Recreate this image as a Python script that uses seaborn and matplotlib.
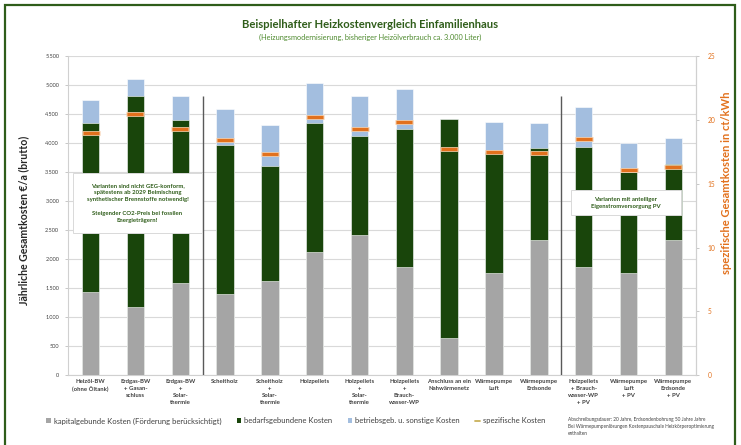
import numpy as np
import pandas as pd
import matplotlib
matplotlib.use("Agg")
import matplotlib.pyplot as plt
import seaborn as sns
from matplotlib.patches import Rectangle, Patch
from matplotlib.lines import Line2D
from matplotlib.ticker import FuncFormatter, FixedLocator

# ---------------- data ----------------
categories = [
    "Heizöl-BW\n(ohne Öltank)",
    "Erdgas-BW\n+ Gasan-\nschluss",
    "Erdgas-BW\n+\nSolar-\nthermie",
    "Scheitholz",
    "Scheitholz\n+\nSolar-\nthermie",
    "Holzpellets",
    "Holzpellets\n+\nSolar-\nthermie",
    "Holzpellets\n+\nBrauch-\nwasser-WP",
    "Anschluss an ein\nNahwärmenetz",
    "Wärmepumpe\nLuft",
    "Wärmepumpe\nErdsonde",
    "Holzpellets\n+ Brauch-\nwasser-WP\n+ PV",
    "Wärmepumpe\nLuft\n+ PV",
    "Wärmepumpe\nErdsonde\n+ PV",
]
kapital = [1440, 1170, 1590, 1390, 1630, 2120, 2410, 1870, 640, 1760, 2330, 1870, 1760, 2330]
bedarf = [2910, 3640, 2800, 2580, 1970, 2230, 1710, 2380, 3780, 2080, 1580, 2070, 1740, 1310]
betrieb = [390, 290, 430, 620, 720, 680, 690, 680, 0, 520, 440, 680, 510, 440]
spezifisch = [19.0, 20.45, 19.3, 18.4, 17.3, 20.2, 19.3, 19.8, 17.7, 17.5, 17.4, 18.5, 16.1, 16.3]
group_boundaries = [2.5, 10.5]
separator_top = 4820

series_names = ["kapitalgebunde Kosten (Förderung berücksichtigt)",
                "bedarfsgebundene Kosten",
                "betriebsgeb. u. sonstige Kosten",
                "spezifische Kosten"]

title = "Beispielhafter Heizkostenvergleich Einfamilienhaus"
subtitle = "(Heizungsmodernisierung, bisheriger Heizölverbrauch ca. 3.000 Liter)"
ylabel_left = "Jährliche Gesamtkosten €/a (brutto)"
ylabel_right = "spezifische Gesamtkosten in ct/kWh"
box1_text = ("Varianten sind nicht GEG-konform,\nspätestens ab 2029 Beimischung\n"
             "synthetischer Brennstoffe notwendig!\n\nSteigender CO2-Preis bei fossilen\nEnergieträgern!")
box2_text = "Varianten mit anteiliger\nEigenstromversorgung PV"
footnote = ("Abschreibungsdauer: 20 Jahre, Erdsondenbohrung 50 Jahre Jahre\n"
            "Bei Wärmepumpenlösungen Kostenpauschale Heizkörperoptimierung\nenthalten")

# ---------------- style ----------------
C_GRAY = "#A5A5A5"
C_GREEN = "#19450B"
C_BLUE = "#A3BEDF"
C_ORANGE = "#E2711D"
C_ORANGE_LIGHT = "#F6C9A0"
C_TITLE = "#2F5D1A"
C_SUB = "#4E8A2E"
C_TXT = "#404040"

sns.set_theme(style="white")
plt.rcParams["font.family"] = ["Lato", "DejaVu Sans"]

df = pd.DataFrame({"cat": categories, "kap": kapital, "bed": bedarf, "bet": betrieb, "spez": spezifisch})
df["lvl2"] = df["kap"] + df["bed"]
df["lvl3"] = df["lvl2"] + df["bet"]

fig = plt.figure(figsize=(7.41, 4.45), dpi=100)
ax = fig.add_axes([0.092, 0.157, 0.847, 0.717])

bw = 0.39
for col, c in [("lvl3", C_BLUE), ("lvl2", C_GREEN), ("kap", C_GRAY)]:
    sns.barplot(data=df, x="cat", y=col, order=categories, color=c, saturation=1,
                width=bw, ax=ax, zorder=3, edgecolor="#FFFFFF", linewidth=0.4)

ax.set_ylim(0, 5500)
ax.set_xlim(-0.5, len(categories) - 0.5)
ax.yaxis.set_major_locator(FixedLocator(np.arange(0, 5501, 500)))
ax.yaxis.set_major_formatter(FuncFormatter(lambda v, p: f"{int(v):,}".replace(",", ".")))
ax.grid(axis="y", color="#D9D9D9", linewidth=0.8, zorder=0)
ax.set_axisbelow(True)

# separators
ax.vlines(group_boundaries, 0, separator_top, color="#595959", linewidth=1.0, zorder=4)

# secondary axis with specific costs
ax2 = ax.twinx()
sns.pointplot(data=df, x="cat", y="spez", order=categories, ax=ax2, errorbar=None,
              linestyle="none", marker="_", markersize=12.5, markeredgewidth=3.4,
              color=C_ORANGE_LIGHT, zorder=5)
sns.pointplot(data=df, x="cat", y="spez", order=categories, ax=ax2, errorbar=None,
              linestyle="none", marker="_", markersize=12, markeredgewidth=2.2,
              color=C_ORANGE, zorder=6)
ax2.set_ylim(0, 25)
ax2.set_xlim(-0.5, len(categories) - 0.5)
ax2.yaxis.set_major_locator(FixedLocator(np.arange(0, 26, 5)))
ax2.set_ylabel("")
ax2.set_xlabel("")
ax2.grid(False)
ax2.tick_params(axis="y", labelcolor=C_ORANGE, labelsize=4.8, length=2.5, width=0.6, pad=6,
                color="#BFBFBF")

# x ticks / labels
ax.set_xticks(range(len(categories)))
ax.set_xticklabels(categories, fontsize=4.3, color=C_TXT, linespacing=1.45, fontweight="bold")
ax.tick_params(axis="x", length=0, pad=3)
ax.xaxis.set_minor_locator(FixedLocator(np.arange(-0.5, len(categories), 1)))
ax.tick_params(axis="x", which="minor", length=2.5, width=0.6, color="#BFBFBF")
ax.tick_params(axis="y", labelsize=4.0, labelcolor=C_TXT, length=2.5, width=0.6, pad=4,
               color="#BFBFBF")
ax.set_xlabel("")
ax.set_ylabel("")

for a in (ax, ax2):
    a.spines["top"].set_visible(False)
    for s in ["left", "right", "bottom"]:
        a.spines[s].set_color("#D0D0D0")
        a.spines[s].set_linewidth(0.8)
ax2.spines["left"].set_visible(False)
ax2.spines["bottom"].set_visible(False)

# annotation boxes
def textbox(x0, y0, x1, y1, text, fs):
    ax2.add_patch(Rectangle((x0, y0), x1 - x0, y1 - y0, transform=ax2.transAxes, facecolor="white",
                            edgecolor="#D9D9D9", linewidth=0.7, zorder=10, clip_on=False))
    ax2.text((x0 + x1) / 2, (y0 + y1) / 2, text, transform=ax2.transAxes, ha="center", va="center",
             fontsize=fs, color=C_TITLE, fontweight="bold", linespacing=1.5, zorder=11)

textbox(0.008, 0.445, 0.213, 0.633, box1_text, 4.3)
textbox(0.801, 0.502, 0.976, 0.580, box2_text, 4.3)

# titles and axis labels
fig.text(0.5, 0.944, title, ha="center", va="center", fontsize=8.1, fontweight="bold", color=C_TITLE)
fig.text(0.5, 0.915, subtitle, ha="center", va="center", fontsize=5.3, color=C_SUB)
fig.text(0.032, 0.505, ylabel_left, rotation=90, ha="center", va="center", fontsize=7.6,
         fontweight="bold", color="#262626")
fig.text(0.981, 0.589, ylabel_right, rotation=90, ha="center", va="center", fontsize=8.0,
         fontweight="bold", color=C_ORANGE)

# legend
handles = [Patch(facecolor=C_GRAY, edgecolor="none"),
           Patch(facecolor=C_GREEN, edgecolor="none"),
           Patch(facecolor=C_BLUE, edgecolor="none"),
           Line2D([0], [0], color="#C9B15A", linewidth=1.3)]
leg = fig.legend(handles, series_names, loc="center left", bbox_to_anchor=(0.058, 0.054),
                 ncol=4, frameon=False, fontsize=5.5, handlelength=0.6, handleheight=0.6,
                 handletextpad=0.4, columnspacing=2.0, borderaxespad=0)
for t in leg.get_texts():
    t.set_color(C_TXT)

fig.text(0.766, 0.062, footnote, ha="left", va="top", fontsize=3.4, color=C_TXT, linespacing=1.5)

# outer frame
fig.patches.append(Rectangle((0.007, -0.02), 0.985, 1.008, transform=fig.transFigure,
                             facecolor="none", edgecolor="#2F5D1A", linewidth=1.6, zorder=0))

fig.savefig("out.png", dpi=100)
